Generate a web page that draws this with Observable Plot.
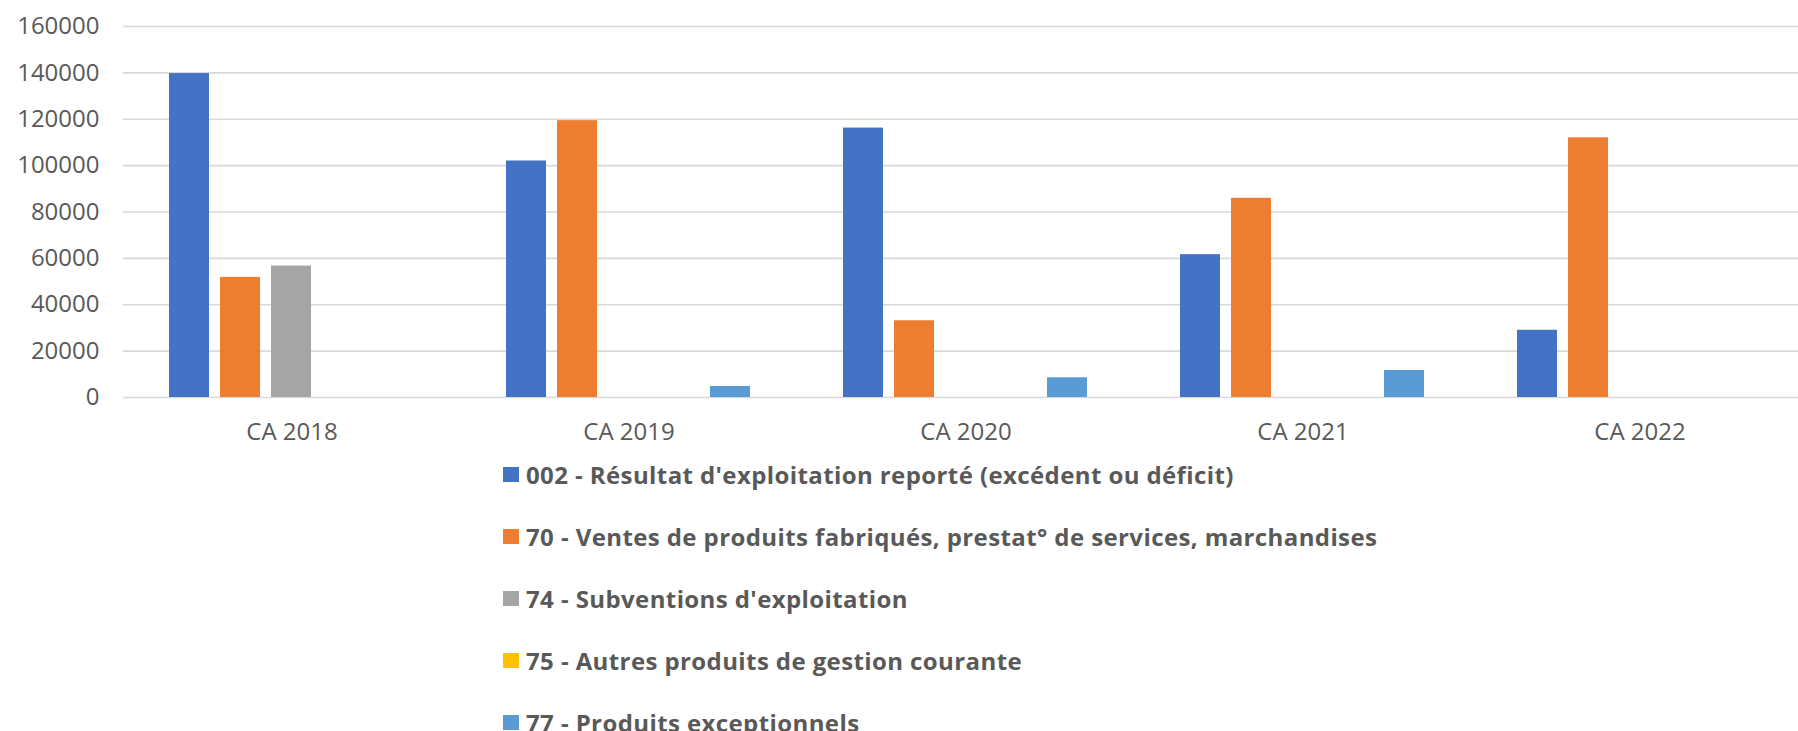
<!DOCTYPE html>
<html>
<head>
<meta charset="utf-8">
<script src="https://cdn.jsdelivr.net/npm/d3@7"></script>
<script src="https://cdn.jsdelivr.net/npm/@observablehq/plot@0.6"></script>
<style>
  html, body { margin: 0; padding: 0; background: #fff; overflow: hidden; width: 1798px; height: 731px; }
  #chart { width: 1798px; overflow: hidden; }
  #chart svg { display: block; max-width: none !important; }
  .legend { margin-top: -7px; padding-left: 503px; font-family: "Open Sans", sans-serif; font-weight: 700; font-size: 24px; letter-spacing: 0.4px; color: #595959; }
  .legend .row { display: flex; align-items: center; height: 62px; white-space: nowrap; }
  .legend .sw { width: 16px; height: 15px; margin-right: 7px; flex: none; }
</style>
</head>
<body>
<div id="chart"></div>
<div class="legend" id="legend"></div>
<script>
const categories = ["CA 2018", "CA 2019", "CA 2020", "CA 2021", "CA 2022"];
const seriesNames = [
  "002 - Résultat d'exploitation reporté (excédent ou déficit)",
  "70 - Ventes de produits fabriqués, prestat° de services, marchandises",
  "74 - Subventions d'exploitation",
  "75 - Autres produits de gestion courante",
  "77 - Produits exceptionnels"
];
const colors = ["#4472C4", "#ED7D31", "#A5A5A5", "#FFC000", "#5B9BD5"];
const values002 = [139700, 102000, 116200, 61600, 29000];
const values70 = [51800, 119400, 33100, 85900, 112000];
const values74 = [56700, 0, 0, 0, 0];
const values75 = [0, 0, 0, 0, 0];
const values77 = [0, 4750, 8500, 11650, 0];
const yTicks = [0, 20000, 40000, 60000, 80000, 100000, 120000, 140000, 160000];

const seriesValues = [values002, values70, values74, values75, values77];
const data = [];
categories.forEach((cat, i) => {
  seriesNames.forEach((s, j) => {
    data.push({cat, series: s, value: seriesValues[j][i]});
  });
});

const chart = Plot.plot({
  width: 1810,
  height: 450,
  marginLeft: 121,
  marginRight: 0,
  marginTop: 26,
  marginBottom: 53,
  style: {fontFamily: "Open Sans, sans-serif", fontSize: "24px", color: "#595959", background: "#fff", maxWidth: "none"},
  fx: {domain: categories, padding: 0, label: null},
  x: {domain: seriesNames, paddingInner: 0.2115, paddingOuter: 0.855, axis: null},
  y: {domain: [0, 160000], label: null},
  color: {domain: seriesNames, range: colors},
  marks: [
    Plot.gridY(yTicks, {stroke: "#d9d9d9", strokeOpacity: 1, strokeWidth: 1.6}),
    Plot.barY(data, {fx: "cat", x: "series", y: "value", fill: "series"}),
    Plot.axisY(yTicks, {tickSize: 0, tickPadding: 24, tickFormat: d3.format("d"), label: null, fill: "#595959", fontSize: 24}),
    Plot.axisFx({anchor: "bottom", tickSize: 0, tickPadding: 25, label: null, fill: "#595959", fontSize: 24})
  ]
});
document.getElementById("chart").appendChild(chart);

const legend = document.getElementById("legend");
seriesNames.forEach((s, i) => {
  const row = document.createElement("div");
  row.className = "row";
  const sw = document.createElement("span");
  sw.className = "sw";
  sw.style.background = colors[i];
  const t = document.createElement("span");
  t.textContent = s;
  row.appendChild(sw);
  row.appendChild(t);
  legend.appendChild(row);
});
</script>
</body>
</html>
